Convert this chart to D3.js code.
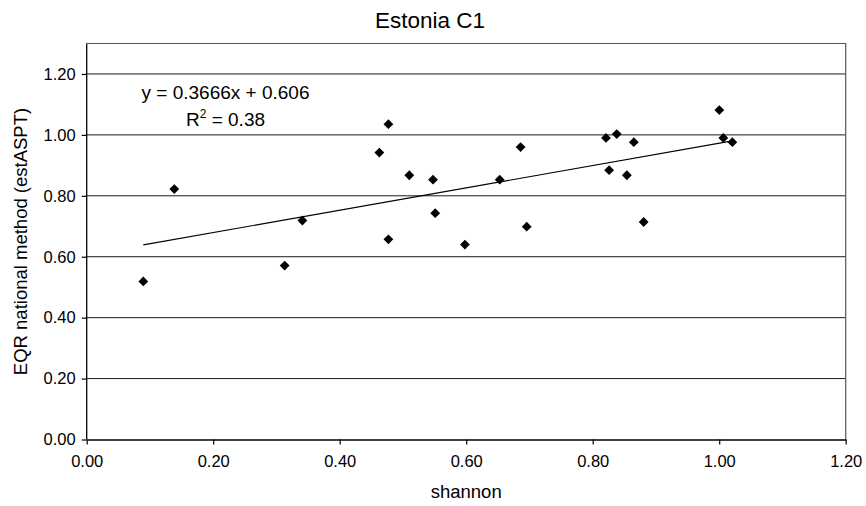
<!DOCTYPE html>
<html>
<head>
<meta charset="utf-8">
<script src="https://cdn.jsdelivr.net/npm/d3@7"></script>
<style>
  html, body { margin: 0; padding: 0; background: #fff; }
  svg { display: block; font-family: "Liberation Sans", Arial, sans-serif; }
</style>
</head>
<body>
<svg id="chart" width="866" height="506"></svg>
<script>
// Shannon diversity vs. EQR (estASPT) for Estonian C1 sites
const shannon = [0.0895, 0.1385, 0.313, 0.341, 0.4627, 0.477, 0.477, 0.510, 0.5475, 0.551, 0.598, 0.653,
                 0.686, 0.6957, 0.821, 0.826, 0.838, 0.854, 0.865, 0.8806, 1.0002, 1.0065, 1.0208];
const eqr     = [0.519, 0.822, 0.571, 0.719, 0.942, 1.035, 0.657, 0.8675, 0.853, 0.743, 0.640, 0.853,
                 0.960, 0.6985, 0.990, 0.884, 1.0025, 0.8675, 0.976, 0.714, 1.0815, 0.990, 0.976];

// Linear trend line coefficients (y = slope * x + intercept)
const slope = 0.3666;
const intercept = 0.606;
const rSquared = 0.38;

const xTicks = [0, 0.2, 0.4, 0.6, 0.8, 1.0, 1.2];
const yTicks = [0, 0.2, 0.4, 0.6, 0.8, 1.0, 1.2];

const titleText = "Estonia C1";
const xTitle = "shannon";
const yTitle = "EQR national method (estASPT)";

const svg = d3.select("#chart");
const plot = { left: 86.7, right: 845.7, top: 43.5, bottom: 439.5 };

const x = d3.scaleLinear().domain([0, 1.2]).range([plot.left, plot.right]);
const y = d3.scaleLinear().domain([0, 1.3]).range([plot.bottom, plot.top]);

// Horizontal gridlines
svg.append("g")
  .selectAll("line")
  .data(yTicks.filter(d => d > 0))
  .join("line")
  .attr("x1", plot.left).attr("x2", plot.right)
  .attr("y1", d => y(d)).attr("y2", d => y(d))
  .attr("stroke", "#1a1a1a").attr("stroke-width", 1);

// Top and right border of the plot area
svg.append("path")
  .attr("d", `M${plot.left},${plot.top}H${plot.right}V${plot.bottom}`)
  .attr("fill", "none").attr("stroke", "#555").attr("stroke-width", 1.2);

// Axes
const fmt = d3.format(".2f");
const xAxis = svg.append("g")
  .attr("transform", `translate(0,${plot.bottom})`)
  .call(d3.axisBottom(x).tickValues(xTicks).tickFormat(fmt).tickSizeInner(5).tickSizeOuter(0).tickPadding(11));
const yAxis = svg.append("g")
  .attr("transform", `translate(${plot.left},0)`)
  .call(d3.axisLeft(y).tickValues(yTicks).tickFormat(fmt).tickSizeInner(5).tickSizeOuter(0).tickPadding(6));

[xAxis, yAxis].forEach(g => {
  g.select(".domain").attr("stroke", "#000").attr("stroke-width", 1.3);
  g.selectAll(".tick line").attr("stroke", "#000").attr("stroke-width", 1.2);
  g.selectAll(".tick text")
    .attr("fill", "#000")
    .style("font-family", "'Liberation Sans', Arial, sans-serif")
    .style("font-size", "16.5px");
});
// the y-axis domain should reach the top of the plot frame
yAxis.select(".domain").attr("d", `M0,${plot.top}V${plot.bottom}`);

// Trend line across the range of the data
const xExt = d3.extent(shannon);
svg.append("line")
  .attr("x1", x(xExt[0])).attr("y1", y(slope * xExt[0] + intercept))
  .attr("x2", x(xExt[1])).attr("y2", y(slope * xExt[1] + intercept))
  .attr("stroke", "#000").attr("stroke-width", 1.1);

// Diamond markers
const diamond = d3.symbol().type(d3.symbolSquare).size(48);
svg.append("g")
  .selectAll("path")
  .data(shannon.map((s, i) => [s, eqr[i]]))
  .join("path")
  .attr("d", diamond)
  .attr("transform", d => `translate(${x(d[0])},${y(d[1])}) rotate(45)`)
  .attr("fill", "#000");

// Regression equation
const eq = svg.append("text")
  .attr("text-anchor", "middle")
  .style("font-size", "19px")
  .attr("fill", "#000");
eq.append("tspan").attr("x", 225.5).attr("y", 98.7)
  .text(`y = ${slope}x + ${intercept.toFixed(3)}`);
const r2 = eq.append("tspan").attr("x", 225.5).attr("y", 126.3);
r2.append("tspan").text("R");
r2.append("tspan").attr("dy", -8).style("font-size", "12px").text("2");
r2.append("tspan").attr("dy", 8).text(` = ${rSquared.toFixed(2)}`);

// Titles
svg.append("text")
  .attr("x", 430).attr("y", 28.3)
  .attr("text-anchor", "middle")
  .style("font-size", "22.5px")
  .attr("fill", "#000")
  .text(titleText);

svg.append("text")
  .attr("x", (plot.left + plot.right) / 2).attr("y", 497.5)
  .attr("text-anchor", "middle")
  .style("font-size", "18.5px")
  .attr("fill", "#000")
  .text(xTitle);

svg.append("text")
  .attr("transform", `translate(26.7,${(plot.top + plot.bottom) / 2}) rotate(-90)`)
  .attr("text-anchor", "middle")
  .style("font-size", "18.5px")
  .attr("fill", "#000")
  .text(yTitle);
</script>
</body>
</html>
